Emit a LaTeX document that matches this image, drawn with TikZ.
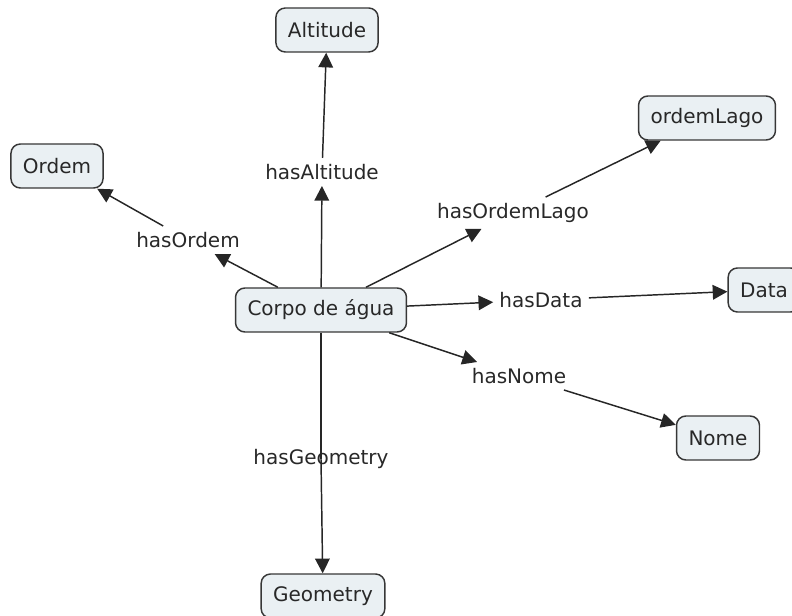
\documentclass[tikz,border=0pt]{standalone}
\usepackage{fontspec}
\setmainfont{DejaVu Sans}
\usetikzlibrary{arrows.meta}

\definecolor{conceptfill}{RGB}{234,240,243}
\definecolor{conceptline}{RGB}{55,55,55}
\definecolor{textgrey}{RGB}{40,40,40}

\tikzset{
	concept/.style={draw=conceptline, line width=1.1pt, fill=conceptfill, rounded corners=7pt,
		inner xsep=9pt, minimum height=33pt, text=textgrey},
	linkphrase/.style={inner sep=4.5pt, text=textgrey},
	link/.style={draw=black!85, line width=1.1pt},
	linkto/.style={link, -{Triangle[length=11pt,width=11pt]}},
}

\begin{document}
\begin{tikzpicture}[x=0.75pt, y=-0.75pt, font=\fontsize{15}{18}\selectfont]
	\useasboundingbox (0,0) rectangle (792,616);

	% Concepts
	\node[concept] (corpo) at (321,310) {Corpo de água};
	\node[concept] (altitude) at (327,30) {Altitude};
	\node[concept] (ordem) at (57,166) {Ordem};
	\node[concept] (ordemlago) at (707,118) {ordemLago};
	\node[concept] (data) at (764,290) {Data};
	\node[concept] (nome) at (718,438) {Nome};
	\node[concept] (geometry) at (323,596) {Geometry};

	% Linking phrases
	\node[linkphrase] (hasaltitude) at (322,172) {hasAltitude};
	\node[linkphrase] (hasordem) at (188,240) {hasOrdem};
	\node[linkphrase] (hasordemlago) at (513,213) {hasOrdemLago};
	\node[linkphrase] (hasdata) at (541,300) {hasData};
	\node[linkphrase] (hasnome) at (519,376) {hasNome};
	\node[linkphrase] (hasgeometry) at (321,459) {hasGeometry};

	% Connectors
	\draw[linkto] (corpo) -- (hasaltitude);
	\draw[linkto] (hasaltitude) -- (altitude);

	\draw[linkto] (corpo) -- (hasordem);
	\draw[linkto] (hasordem) -- (ordem);

	\draw[linkto] (corpo) -- (hasordemlago);
	\draw[linkto] (hasordemlago) -- (ordemlago);

	\draw[linkto] (corpo) -- (hasdata);
	\draw[linkto] (hasdata) -- (data);

	\draw[linkto] (corpo) -- (hasnome);
	\draw[linkto] (hasnome) -- (nome);

	\draw[link] (corpo) -- (hasgeometry.center);
	\draw[linkto] (hasgeometry.center) -- (geometry);

\end{tikzpicture}
\end{document}
